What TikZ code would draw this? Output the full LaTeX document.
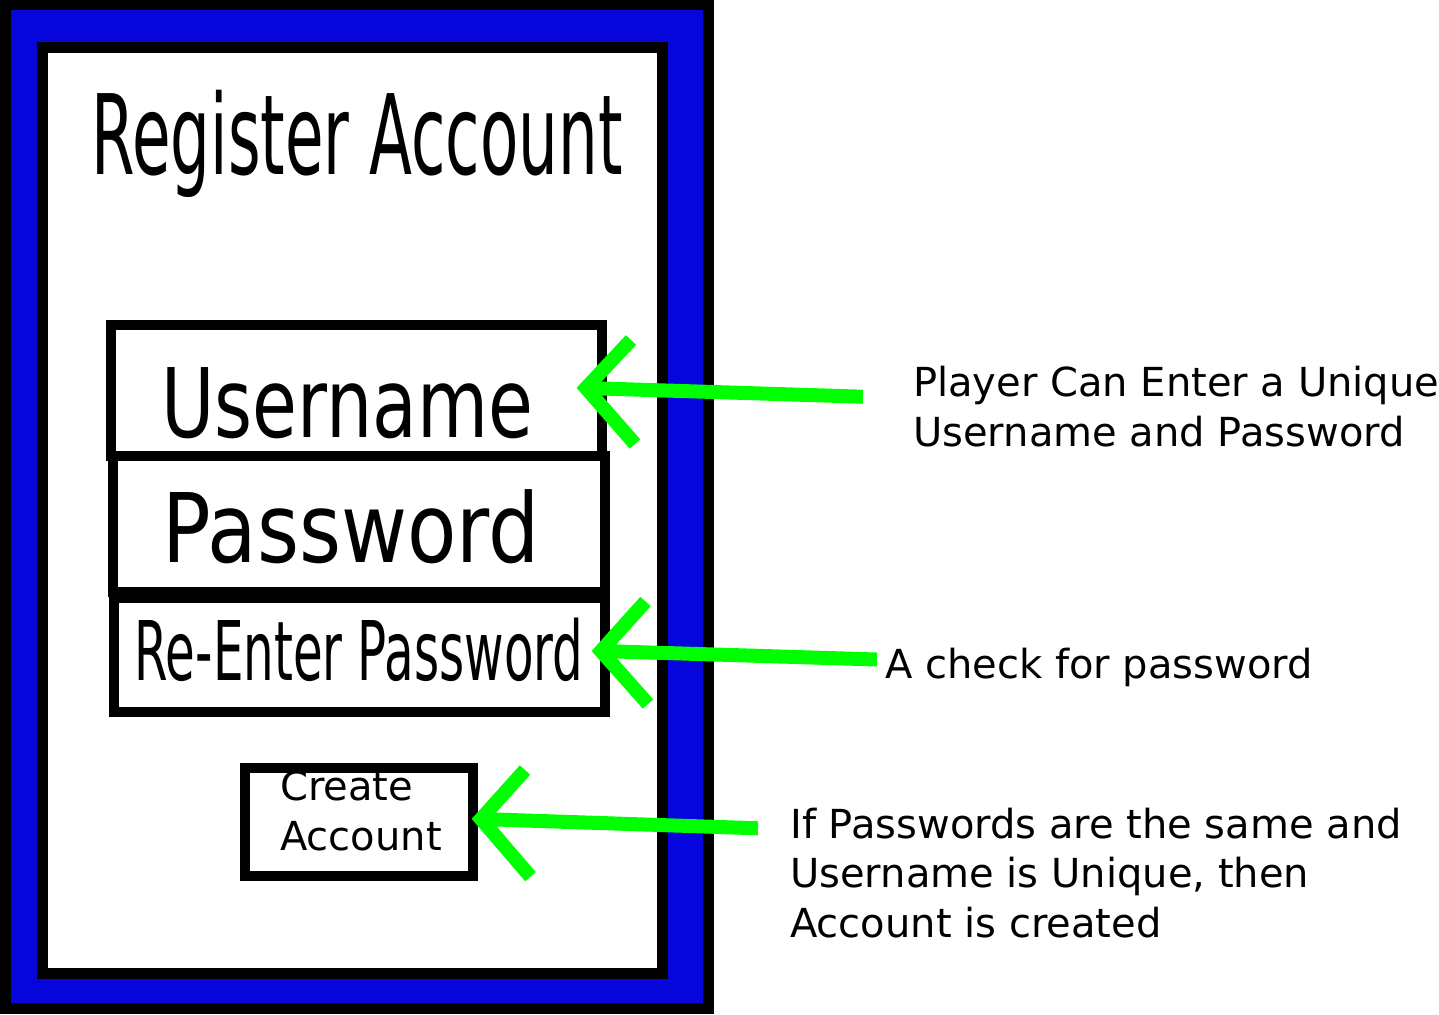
\documentclass[tikz,border=0pt]{standalone}
\usepackage{fontspec}
\setmainfont{DejaVu Sans}
\usepackage{graphicx}
\definecolor{scrblue}{RGB}{5,5,220}
\definecolor{arrgreen}{RGB}{0,255,0}
\tikzset{
  frame/.style={draw=black, line width=11pt},
  fieldbox/.style={draw=black, line width=10.5pt, inner sep=0pt},
  lbl/.style={inner sep=0pt, anchor=base west, font=\fontsize{40}{50}\selectfont},
  greenline/.style={draw=arrgreen, line width=14pt},
  greenhead/.style={greenline, line join=miter},
}
\begin{document}
\begin{tikzpicture}[x=1pt,y=-1pt]
\useasboundingbox (0,0) rectangle (1439,1014);
% screen
\draw[frame, fill=scrblue] (5.5,5) rectangle (708,1008.5);
\draw[frame, fill=white] (42.5,48) rectangle (662.5,973.5);
% title
\node[inner sep=0pt, anchor=base] (title) at (357,175)
  {\fontsize{111}{120}\selectfont\resizebox{531pt}{\height}{Register Account}};
% fields
\node[fieldbox, minimum width=491, minimum height=131] (ubox) at (356.5,390.5) {};
\node[fieldbox, minimum width=492, minimum height=136] (pbox) at (359,524) {};
\node[fieldbox, minimum width=491, minimum height=114] (rbox) at (359.5,655) {};
\node[fieldbox, minimum width=228, minimum height=108] (cbox) at (359,822) {};
\node[inner sep=0pt, anchor=base] (utext) at (347.5,437)
  {\fontsize{96}{110}\selectfont\resizebox{372pt}{\height}{Username}};
\node[inner sep=0pt, anchor=base] (ptext) at (351,562)
  {\fontsize{96}{110}\selectfont\resizebox{377pt}{\height}{Password}};
\node[inner sep=0pt, anchor=base] (rtext) at (359,680)
  {\fontsize{82.3}{95}\selectfont\resizebox{449pt}{\height}{Re-Enter Password}};
\node[lbl] (ctext1) at (280,800) {Create};
\node[lbl] (ctext2) at (280,850) {Account};
% annotations
\node[lbl] (ann1a) at (913,396) {Player Can Enter a Unique};
\node[lbl] (ann1b) at (913,446) {Username and Password};
\node[lbl] (ann2) at (885,678) {A check for password};
\node[lbl] (ann3a) at (790,838) {If Passwords are the same and};
\node[lbl] (ann3b) at (790,887) {Username is Unique, then};
\node[lbl] (ann3c) at (790,937) {Account is created};
% arrow coordinates
\coordinate (tipU) at (586,388);
\coordinate (tailU) at (863,396.7);
\coordinate (upU) at (631,340);
\coordinate (loU) at (635,444);
\coordinate (tipR) at (601,651);
\coordinate (tailR) at (877,659.5);
\coordinate (upR) at (645.5,601.5);
\coordinate (loR) at (648,704);
\coordinate (tipC) at (481,819);
\coordinate (tailC) at (758,828.3);
\coordinate (upC) at (525,770);
\coordinate (loC) at (530.5,876.7);
% arrows
\draw[greenline] (tailU) -- (tipU);
\draw[greenhead] (upU) -- (tipU) -- (loU);
\draw[greenline] (tailR) -- (tipR);
\draw[greenhead] (upR) -- (tipR) -- (loR);
\draw[greenline] (tailC) -- (tipC);
\draw[greenhead] (upC) -- (tipC) -- (loC);
\end{tikzpicture}
\end{document}
